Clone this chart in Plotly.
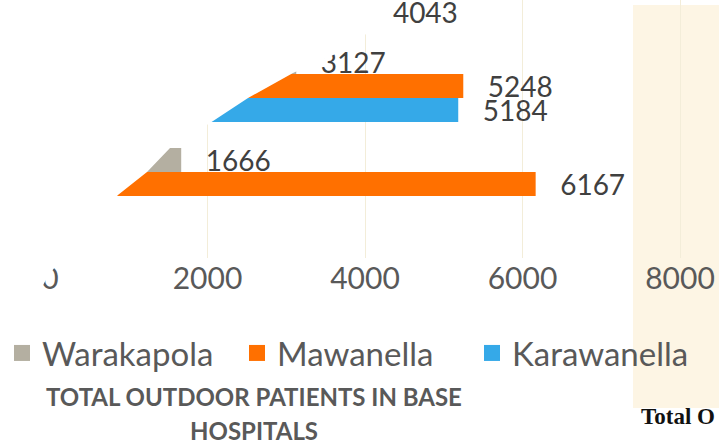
import plotly.graph_objects as go

# ---- data ----
categories = ["Group 1", "Group 2", "Group 3"]          # bottom -> top (labels not shown)
warakapola = [1666, 3127, None]
mawanella = [6167, 5248, None]
karawanella = [None, 5184, 4043]
x_ticks = [0, 2000, 4000, 6000, 8000]
series_names = ["Warakapola", "Mawanella", "Karawanella"]

colors = {"Warakapola": "#b4afa1", "Mawanella": "#ff7000", "Karawanella": "#35a9e8"}

W, H = 719, 444
PL, PT, PW, PH = 50, 0, 669, 258   # plot area in pixels


def fx(px):
    return (px - PL) / PW


def fy(py):
    return 1 - (py - PT) / PH


fig = go.Figure()
FONT = "Lato, Calibri, sans-serif"
tick_font = dict(family=FONT, size=30, color="#595959")
lab_font = dict(family=FONT, size=28, color="#404040")

# bottom-to-top order inside each group: Karawanella, Mawanella, Warakapola
for name, vals in [("Karawanella", karawanella), ("Mawanella", mawanella), ("Warakapola", warakapola)]:
    fig.add_trace(go.Bar(
        y=categories, x=vals, name=name, orientation="h", showlegend=False,
        marker=dict(color=colors[name], line=dict(width=0)),
        texttemplate="\u00a0\u00a0\u00a0%{x}", textposition="outside",
        textfont=lab_font, constraintext="none", cliponaxis=False,
    ))

# legend entries (square keys)
for name in series_names:
    fig.add_trace(go.Scatter(x=[None], y=[None], mode="markers", name=name,
                             marker=dict(symbol="square", size=16, color=colors[name])))

# white curled-page mask over the top-left corner
mask_px = [(-20, -20), (400, -20), (392, 0), (385, 15), (372, 30), (340, 52), (293, 73),
           (248, 98), (210, 123), (170, 148), (147, 172), (118, 195), (95, 220), (70, 248),
           (48, 276), (35, 300), (25, 330), (-20, 330)]
path = "M " + " L ".join(f"{fx(x):.4f},{fy(y):.4f}" for x, y in mask_px) + " Z"
fig.add_shape(type="path", path=path, xref="paper", yref="paper",
              fillcolor="white", line=dict(width=0), layer="above")

# beige page region on the right
fig.add_shape(type="rect", xref="paper", yref="paper", x0=fx(633), x1=fx(725), y0=fy(408), y1=fy(5),
              fillcolor="#fdf5e4", line=dict(width=0), layer="below")

title_font = dict(family=FONT, size=24, color="#595959", weight="bold")
fig.add_annotation(text="TOTAL OUTDOOR PATIENTS IN BASE", xref="paper", yref="paper",
                   x=fx(254), y=fy(396), showarrow=False, font=title_font, xanchor="center", yanchor="middle")
fig.add_annotation(text="HOSPITALS", xref="paper", yref="paper",
                   x=fx(254), y=fy(430), showarrow=False, font=title_font, xanchor="center", yanchor="middle")
fig.add_annotation(text="Total O", xref="paper", yref="paper", x=fx(639), y=fy(416),
                   showarrow=False, xanchor="left", yanchor="middle",
                   font=dict(family="Liberation Serif, serif", size=23, color="#111111", weight="bold"))

fig.update_layout(
    width=W, height=H,
    margin=dict(l=PL, r=W - PL - PW, t=PT, b=H - PT - PH, pad=0),
    paper_bgcolor="white", plot_bgcolor="rgba(0,0,0,0)",
    barmode="group", bargap=0.265, bargroupgap=0,
    showlegend=True,
    legend=dict(orientation="h", x=fx(2), y=fy(353), xanchor="left", yanchor="middle",
                itemsizing="trace", entrywidth=190, entrywidthmode="pixels",
                font=dict(family=FONT, size=33, color="#595959"),
                bgcolor="rgba(0,0,0,0)"),
    xaxis=dict(range=[0, PW / 0.07875], tickvals=x_ticks, ticktext=[str(v) for v in x_ticks],
               showgrid=True, gridcolor="#f3edd9", gridwidth=1, zeroline=False, showline=False,
               tickfont=tick_font, ticks=""),
    yaxis=dict(range=[-0.755, 1.878], showticklabels=False, showgrid=False, zeroline=False,
               showline=False, ticks=""),
)

fig.write_html("out.html", config={"displayModeBar": False},
               post_script="document.body.style.margin='0px';")
